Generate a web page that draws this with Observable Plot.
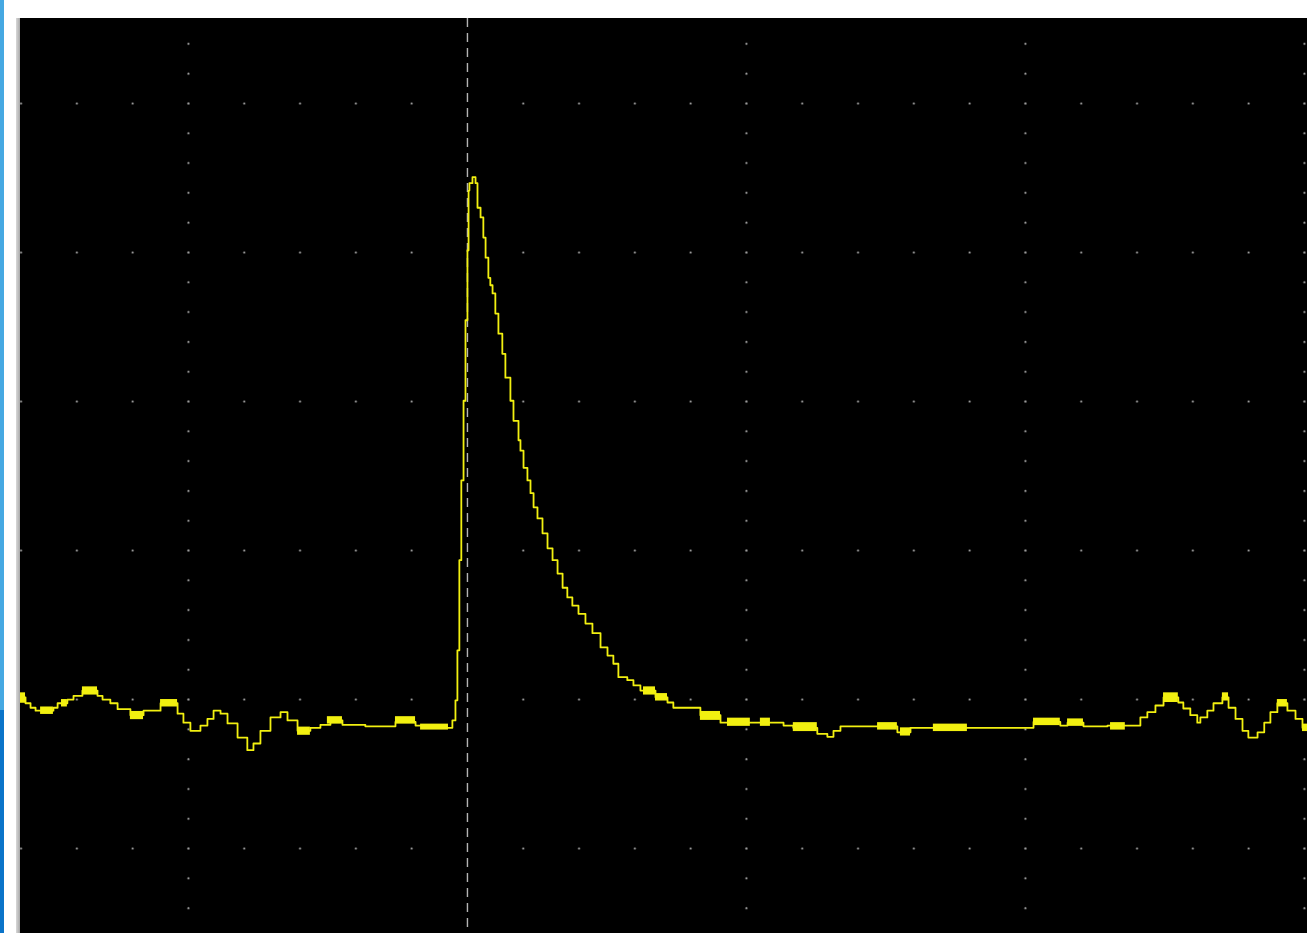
<!DOCTYPE html>
<html>
<head>
<meta charset="utf-8">
<script src="https://cdn.jsdelivr.net/npm/d3@7"></script>
<script src="https://cdn.jsdelivr.net/npm/@observablehq/plot@0.6"></script>
<style>
  html, body { margin: 0; padding: 0; background: #fff; width: 1307px; height: 933px; overflow: hidden; font-family: "DejaVu Sans", sans-serif; }
  #bar-top { position: absolute; left: 0; top: 0; width: 4px; height: 710px; background: #45a8e2; }
  #bar-bot { position: absolute; left: 0; top: 710px; width: 4px; height: 223px; background: #0a74c9; }
  #edge { position: absolute; left: 16px; top: 18px; width: 4px; height: 915px; background: linear-gradient(to right, #d8d8d8, #a8a8a8); }
  #chart { position: absolute; left: 20px; top: 18px; }
  #chart svg { display: block; background: #000; }
</style>
</head>
<body>
<div id="bar-top"></div>
<div id="bar-bot"></div>
<div id="edge"></div>
<div id="chart"></div>
<script>
// Time in ns (100 ns / div), voltage in mV (20 mV / div)
const time = [
  -160.2, -158.4, -156.6, -154.8, -148.4, -146.9, -143.4, -141.2, -138.0, -132.6,
  -130.8, -128.0, -125.4, -120.8, -116.1, -110.0, -103.9, -101.8, -99.3, -95.7,
  -93.2, -91.0, -88.5, -86.0, -82.4, -78.9, -76.7, -74.2, -70.6, -67.0,
  -64.5, -60.9, -56.3, -52.7, -49.1, -44.8, -36.6, -25.8, -18.6, -13.3,
  -5.4, -4.3, -3.6, -2.9, -2.2, -1.4, -0.7, 0.0, 0.4, 0.7,
  1.8, 2.9, 3.6, 4.7, 5.7, 6.5, 7.5, 8.2, 9.0, 10.0,
  11.1, 12.5, 13.6, 15.4, 16.5, 18.3, 19.0, 20.1, 21.5, 22.6,
  23.7, 25.1, 26.9, 28.7, 30.5, 32.3, 34.1, 35.8, 37.6, 39.8,
  42.3, 44.8, 47.7, 50.2, 52.3, 54.1, 57.3, 59.5, 62.0, 67.4,
  71.7, 73.8, 83.5, 90.7, 113.3, 116.8, 125.4, 129.0, 131.2, 133.7,
  154.1, 158.8, 202.9, 212.5, 215.1, 220.8, 229.4, 241.2, 243.7, 246.6,
  249.5, 254.8, 256.6, 259.1, 261.6, 262.7, 265.2, 267.4, 270.6, 272.8,
  275.3, 277.8, 279.9, 283.2, 285.6, 287.8, 290.3, 293.9, 296.8, 299.3,
  301.1
];
const volts = [
  0.3, -0.5, -1.1, -1.5, -1.1, -0.5, 0.0, 0.5, 1.2, 0.5,
  0.0, -0.5, -1.3, -2.1, -1.5, -0.5, -1.9, -3.1, -4.2, -3.5,
  -2.6, -1.5, -1.9, -3.2, -5.1, -6.8, -5.9, -4.2, -2.4, -1.7,
  -2.8, -4.2, -3.8, -3.4, -2.8, -3.4, -3.6, -3.0, -3.5, -3.8,
  -2.8, -0.1, 6.6, 18.7, 29.4, 40.1, 50.9, 60.3, 68.3, 69.3,
  70.1, 69.3, 66.0, 64.7, 62.0, 59.3, 56.6, 55.6, 54.5, 51.8,
  49.1, 46.4, 43.2, 40.1, 37.4, 34.8, 33.4, 31.1, 29.4, 27.7,
  25.8, 24.3, 22.3, 20.3, 18.7, 16.9, 15.0, 13.7, 12.6, 11.5,
  10.2, 8.9, 7.0, 5.9, 4.8, 3.0, 2.6, 1.9, 1.2, 0.3,
  -0.4, -1.1, -2.1, -3.1, -3.5, -3.8, -4.6, -5.0, -4.2, -3.6,
  -4.4, -3.8, -3.0, -3.5, -3.1, -3.6, -3.5, -2.4, -1.7, -0.8,
  0.3, -0.4, -1.2, -2.1, -3.1, -2.4, -1.5, -0.5, 0.3, -1.1,
  -2.6, -4.2, -5.1, -4.4, -3.1, -1.7, -0.5, -1.5, -2.6, -3.8,
  -3.8
];
// Flicker bands (trace toggling between two levels)
const bandStart = [-160.2, -153.0, -145.5, -138.0, -120.8, -110.0, -60.9, -50.2, -25.8, -16.8,
  63.1, 67.4, 83.5, 93.2, 105.0, 116.8, 147.0, 155.2, 167.0, 202.9, 215.1, 230.5, 249.5, 270.6, 290.3, 299.3];
const bandEnd = [-158.4, -148.4, -143.4, -132.6, -116.1, -103.9, -56.3, -44.8, -18.6, -6.8,
  67.4, 71.7, 90.7, 101.4, 108.6, 125.4, 154.1, 158.8, 179.2, 212.5, 220.8, 235.8, 254.8, 272.8, 293.9, 301.1];
const bandLow = [-0.5, -2.0, -1.0, 0.6, -2.7, -1.0, -4.8, -3.3, -3.3, -4.1,
  0.6, -0.2, -2.8, -3.6, -3.6, -4.3, -4.1, -4.9, -4.3, -3.5, -3.6, -4.1, -0.4, -0.2, -1.0, -4.3];
const bandHigh = [0.9, -1.0, 0.0, 1.7, -1.6, 0.0, -3.7, -2.3, -2.3, -3.3,
  1.7, 0.8, -1.6, -2.5, -2.5, -3.1, -3.1, -3.8, -3.3, -2.5, -2.6, -3.1, 0.9, 0.9, 0.0, -3.3];

// Graticule
const xMajor = [-100, 100, 200, 300];
const yMajor = [-20, 0, 20, 40, 60, 80];
const xMinor = d3.range(-160, 301, 20);
const yMinor = d3.range(-28, 92, 4);
const xDomain = [-160.2, 301.1];
const yDomain = [-31.4, 91.4];

const trace = time.map((t, i) => ({t, v: volts[i]}));
const bands = bandStart.map((s, i) => ({x1: s, x2: bandEnd[i], y1: bandLow[i], y2: bandHigh[i]}));
const gridDots = [];
for (const x of xMajor) for (const y of yMinor) gridDots.push({x, y});
for (const y of yMajor) for (const x of xMinor) if (x !== 0) gridDots.push({x, y});

const TRACE = "#f2f010";

const chart = Plot.plot({
  width: 1287,
  height: 915,
  margin: 0,
  x: {domain: xDomain, axis: null},
  y: {domain: yDomain, axis: null},
  style: {background: "#000"},
  marks: [
    Plot.dot(gridDots, {x: "x", y: "y", r: 1.5, fill: "#3a3a3a", stroke: "none"}),
    Plot.dot(gridDots, {x: "x", y: "y", r: 0.8, fill: "#9a9a9a", stroke: "none"}),
    Plot.ruleX([0], {stroke: "#b4b4b4", strokeWidth: 1.4, strokeDasharray: "9,6"}),
    Plot.rect(bands, {x1: "x1", x2: "x2", y1: "y1", y2: "y2", fill: TRACE}),
    Plot.line(trace, {x: "t", y: "v", curve: "step-after", stroke: TRACE, strokeWidth: 1.8})
  ]
});
document.getElementById("chart").appendChild(chart);
</script>
</body>
</html>
